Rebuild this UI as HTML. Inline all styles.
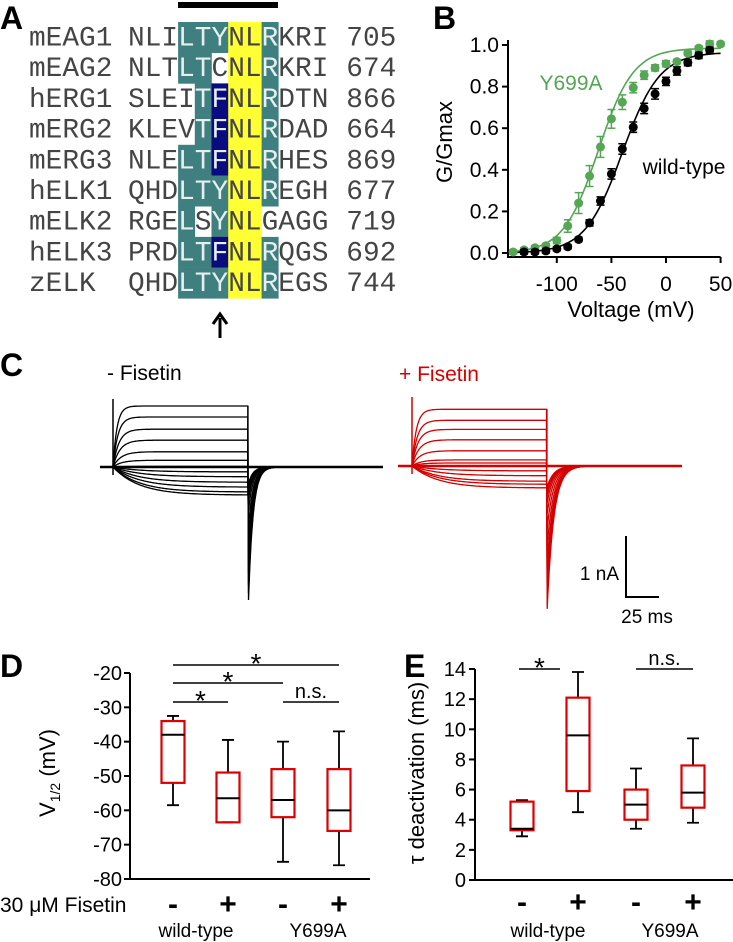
<!DOCTYPE html>
<html><head><meta charset="utf-8"><style>
html,body{margin:0;padding:0;background:#fff}
svg{display:block}
text{font-family:"Liberation Sans",sans-serif}
.mono{font-family:"Liberation Mono",monospace}
</style></head><body>
<svg id="fig" width="733" height="942" viewBox="0 0 733 942" xmlns="http://www.w3.org/2000/svg">
<g font-weight="bold" font-size="32">
<text x="0" y="29">A</text>
<text x="433" y="29">B</text>
<text x="0" y="376">C</text>
<text x="0" y="677">D</text>
<text x="404" y="677">E</text>
</g>
<g id="pa"></g>
<g id="pb"></g>
<g id="pc"></g>
<g id="pd"></g>
<g id="pe"></g>
</svg>
<script>
// ---------- Panel A data ----------
const seqNames=["mEAG1","mEAG2","hERG1","mERG2","mERG3","hELK1","mELK2","hELK3","zELK"];
const seqs=["NLILTYNLRKRI","NLTLTCNLRKRI","SLEITFNLRDTN","KLEVTFNLRDAD","NLELTFNLRHES","QHDLTYNLREGH","RGELSYNLGAGG","PRDLTFNLRQGS","QHDLTYNLREGS"];
const seqNums=["705","674","866","664","869","677","719","692","744"];
const shading=["TTTYYT","TTWYYT","WTNYYT","WTNYYT","TTNYYT","TTTYYT","TWTYYW","TTNYYT","TTTYYT"];
// ---------- Panel B data ----------
const voltsWT=[-130,-120,-110,-100,-90,-80,-70,-60,-50,-40,-30,-20,-10,0,10,20,30,40];
const gWT=[0.005,0.005,0.01,0.02,0.03,0.065,0.145,0.25,0.38,0.50,0.605,0.695,0.765,0.825,0.875,0.915,0.95,0.975];
const eWT=[0.01,0.01,0.01,0.01,0.01,0.01,0.015,0.02,0.025,0.025,0.025,0.025,0.025,0.02,0.02,0.015,0.015,0.015];
const voltsMut=[-140,-130,-120,-110,-100,-90,-80,-70,-60,-50,-40,-30,-20,-10,0,10,20,30,40,50];
const gMut=[0.005,0.015,0.025,0.035,0.06,0.13,0.24,0.37,0.51,0.645,0.725,0.795,0.855,0.89,0.91,0.92,0.96,0.985,1.005,1.005];
const eMut=[0.01,0.01,0.01,0.01,0.015,0.03,0.05,0.05,0.05,0.045,0.035,0.025,0.02,0.015,0.015,0.01,0.01,0.01,0.015,0.01];
const fitWT=[-40,17,0.965];
const fitMut=[-62,16,0.985];
const gTicks=["0.0","0.2","0.4","0.6","0.8","1.0"];
const vTicks=[-100,-50,0,50];
// ---------- Panel C data ----------
const stepCtrl=[1.0,0.82,0.62,0.44,0.25,0.11,0.01,-0.08,-0.16,-0.25,-0.33,-0.41,-0.46];
const tailCtrl=[2.43,2.3,2.15,1.95,1.7,1.4,1.1,0.8,0.6,0.5,0.42,0.36,0.3];
const stepFis=[0.93,0.75,0.6,0.43,0.25,0.1,0.05,-0.08,-0.16,-0.25,-0.3,-0.36];
const tailFis=[2.4,2.25,2.1,1.9,1.65,1.35,1.05,0.8,0.62,0.5,0.42,0.35];
// ---------- Panel D data ----------
const dGroups=["wt-minus","wt-plus","y699a-minus","y699a-plus"];
const dWhiskHi=[-32.5,-39.5,-40,-37];
const dQ3=[-34,-49,-48,-48];
const dMed=[-38,-56.5,-57,-60];
const dQ1=[-52,-63.5,-62,-66];
const dWhiskLo=[-58.5,-63.5,-75,-76];
const dTicks=[-20,-30,-40,-50,-60,-70,-80];
// ---------- Panel E data ----------
const eWhiskHi=[5.3,13.8,7.4,9.4];
const eQ3=[5.2,12.1,6.0,7.6];
const eMed=[3.4,9.6,5.0,5.8];
const eQ1=[3.3,5.9,4.0,4.8];
const eWhiskLo=[2.9,4.5,3.4,3.8];
const eTicks=[0,2,4,6,8,10,12,14];

const NS="http://www.w3.org/2000/svg";
function mk(parent,tag,attrs,txt){const e=document.createElementNS(NS,tag);for(const k in attrs)e.setAttribute(k,attrs[k]);if(txt!==undefined)e.textContent=txt;parent.appendChild(e);return e;}

// ===== Panel A =====
(function(){
const g=document.getElementById('pa');
const cw=16.7,x0=29,sx=128,top0=22,rh=30.7;
const col={T:"#3f7f7f",Y:"#ffff33",N:"#0b0b80",W:"#ffffff"};
shading.forEach((s,i)=>{for(let j=0;j<6;j++){const c=s[j];if(c==='W')continue;
const r=mk(g,'rect',{x:sx+(3+j)*cw,y:top0+i*rh,width:cw+0.3,height:rh+0.3,fill:col[c]});

}});
seqNames.forEach((n,i)=>{
const y=top0+i*rh+23.5;
const t=mk(g,'text',{x:x0,y:y,'class':'mono','font-size':27.8,fill:'#444'},(n+"      ").slice(0,6));


for(let j=0;j<12;j++){const c=(j>=3&&j<=8)?shading[i][j-3]:'';const fill=(c==='T'||c==='N')?'#e6eef0':'#444';
const ch=mk(g,'text',{x:sx+j*cw,y:y,'class':'mono','font-size':27.8,fill:fill},seqs[i][j]);

}
const nu=mk(g,'text',{x:x0+19*cw,y:y,'class':'mono','font-size':27.8,fill:'#444'},seqNums[i]);


});
const bar=mk(g,'rect',{x:178,y:2,width:100,height:6,fill:'#000'});


const ar=mk(g,'path',{d:'M220 338 L220 318 M213 324 L220 314 L227 324',stroke:'#000','stroke-width':3,fill:'none'});


})();

// ===== Panel B =====
(function(){
const g=document.getElementById('pb');
const X=v=>666+v*54.6/50, Y=v=>253-v*208;
mk(g,'path',{d:`M508 40 L508 257 L${X(50)} 257`,stroke:'#000','stroke-width':2,fill:'none',});
gTicks.forEach(t=>{const y=Y(+t);mk(g,'line',{x1:502,x2:508,y1:y,y2:y,stroke:'#000','stroke-width':2});
const tx=mk(g,'text',{x:499,y:y+7,'text-anchor':'end','font-size':21},t);

});
vTicks.forEach(v=>{const x=X(v);mk(g,'line',{x1:x,x2:x,y1:257,y2:263,stroke:'#000','stroke-width':2});
const tx=mk(g,'text',{x:x,y:291,'text-anchor':'middle','font-size':21},String(v));

});
const xt=mk(g,'text',{x:631,y:317,'text-anchor':'middle','font-size':22},'Voltage (mV)');


const yt=mk(g,'text',{x:0,y:0,'text-anchor':'middle','font-size':22,transform:'translate(452,142) rotate(-90)'},'G/Gmax');


function curve(p,color,name){let d='';for(let v=-140;v<=50;v+=2){const gg=p[2]/(1+Math.exp((p[0]-v)/p[1]));d+=(d?'L':'M')+X(v).toFixed(1)+' '+Y(gg).toFixed(1);}
const c=mk(g,'path',{d:d,stroke:color,'stroke-width':1.6,fill:'none'});

}
function pts(vs,gs,es,color,name){vs.forEach((v,i)=>{const x=X(v),y=Y(gs[i]),e=es[i]*208;
mk(g,'path',{d:`M${x} ${y-e} L${x} ${y+e} M${x-4} ${y-e} L${x+4} ${y-e} M${x-4} ${y+e} L${x+4} ${y+e}`,stroke:color,'stroke-width':1.5,fill:'none'});
const c=mk(g,'circle',{cx:x,cy:y,r:4.5,fill:color});

});}
curve(fitWT,'#000','wt-fit');curve(fitMut,'#55a655','y699a-fit');
pts(voltsMut,gMut,eMut,'#55a655','y699a-point');
pts(voltsWT,gWT,eWT,'#000','wt-point');
const l1=mk(g,'text',{x:571,y:90,'text-anchor':'middle','font-size':21,fill:'#55a655'},'Y699A');


const l2=mk(g,'text',{x:684,y:174,'text-anchor':'middle','font-size':21},'wild-type');


})();

// ===== Panel C =====
(function(){
const g=document.getElementById('pc');
function traces(steps,tails,o,color,nm){
const base=o.base,pxn=o.pxPerNA,pxms=o.pxPerMs;
const T=t=>o.x0+t*pxms;
const stepStart=(o.xs-o.x0)/pxms, stepEnd=(o.xe-o.x0)/pxms, tEnd=(o.xend-o.x0)/pxms;
steps.forEach((a,i)=>{let d='';
const tau=a>0?3+ (1-a)*4:20;
for(let t=0;t<=tEnd;t+=0.5){let I=0;
if(t>=stepStart&&t<stepEnd){I=a*(1-Math.exp(-(t-stepStart)/tau));}
else if(t>=stepEnd){I=-tails[i]*Math.exp(-(t-stepEnd)/o.tailTau);}
d+=(d?'L':'M')+T(t).toFixed(1)+' '+(base-I*pxn).toFixed(1);
}
const p=mk(g,'path',{d:d,stroke:color,'stroke-width':1.3,fill:'none'});

});
const cap=mk(g,'line',{x1:o.xs,x2:o.xs,y1:o.capTop,y2:base+8,stroke:color,'stroke-width':1.5});


mk(g,'line',{x1:o.xe,x2:o.xe,y1:base-steps[0]*pxn,y2:base,stroke:color,'stroke-width':1.3});
mk(g,'line',{x1:o.x0,x2:o.xend,y1:base,y2:base,stroke:color,'stroke-width':2.5});
}
traces(stepCtrl,tailCtrl,{base:467,pxPerNA:61,pxPerMs:33/25,x0:100,xs:113,xe:248,xend:383,tailTau:3.5,capTop:399},'#000','control-trace');
traces(stepFis,tailFis,{base:466,pxPerNA:61,pxPerMs:33/25,x0:398,xs:412,xe:547,xend:682,tailTau:5,capTop:397},'#d40000','fisetin-trace');
const t1=mk(g,'text',{x:107,y:380,'font-size':21},'- Fisetin');


const t2=mk(g,'text',{x:399,y:381,'font-size':21,fill:'#d40000'},'+ Fisetin');


const sb=mk(g,'path',{d:'M626 536 L626 597 L659 597',stroke:'#000','stroke-width':2,fill:'none'});


const s1=mk(g,'text',{x:619,y:580,'text-anchor':'end','font-size':19},'1 nA');


const s2=mk(g,'text',{x:647,y:623,'text-anchor':'middle','font-size':19},'25 ms');


})();

// ===== Box plot helper =====
function boxplot(g,Y,xs,hi,q3,md,q1,lo,name){
xs.forEach((x,i)=>{const w=11.5;
mk(g,'path',{d:`M${x} ${Y(hi[i])} L${x} ${Y(q3[i])} M${x} ${Y(q1[i])} L${x} ${Y(lo[i])} M${x-6} ${Y(hi[i])} L${x+6} ${Y(hi[i])} M${x-6} ${Y(lo[i])} L${x+6} ${Y(lo[i])}`,stroke:'#000','stroke-width':1.8,fill:'none'});
const b=mk(g,'rect',{x:x-w,y:Y(q3[i]),width:2*w,height:Y(q1[i])-Y(q3[i]),fill:'none',stroke:'#d00','stroke-width':2.2});


mk(g,'line',{x1:x-w,x2:x+w,y1:Y(md[i]),y2:Y(md[i]),stroke:'#000','stroke-width':2});});}
function sig(g,x1,x2,y,lab){mk(g,'line',{x1:x1,x2:x2,y1:y,y2:y,stroke:'#000','stroke-width':1.5});
const t=mk(g,'text',{x:(x1+x2)/2,y:lab==='*'?y+8:y-4,'text-anchor':'middle','font-size':lab==='*'?28:20},lab);

}

// ===== Panel D =====
(function(){
const g=document.getElementById('pd');
const Y=v=>673+(-20-v)*3.433;const xs=[173,228,283,339];
mk(g,'path',{d:'M130 673 L130 879 L370 879',stroke:'#000','stroke-width':2,fill:'none'});
dTicks.forEach(v=>{mk(g,'line',{x1:124,x2:130,y1:Y(v),y2:Y(v),stroke:'#000','stroke-width':2});
const t=mk(g,'text',{x:122,y:Y(v)+7,'text-anchor':'end','font-size':20},String(v));

});
boxplot(g,Y,xs,dWhiskHi,dQ3,dMed,dQ1,dWhiskLo,'vhalf-box');
sig(g,173,228,702,'*');sig(g,173,283,683,'*');sig(g,173,339,665,'*');sig(g,283,339,702,'n.s.');
const yt=mk(g,'text',{x:0,y:0,'text-anchor':'middle','font-size':22,transform:'translate(55,773) rotate(-90)'});


yt.innerHTML='V<tspan font-size="14" dy="5">1/2</tspan><tspan dy="-5"> (mV)</tspan>';
const f=mk(g,'text',{x:0,y:912,'font-size':21},'30 \u03bcM Fisetin');


["-","+","-","+"].forEach((s,i)=>{const t=mk(g,'text',{x:xs[i],y:914,'text-anchor':'middle','font-size':30,'font-weight':'bold'},s);

});
const a=mk(g,'text',{x:196,y:937,'text-anchor':'middle','font-size':19},'wild-type');


const b=mk(g,'text',{x:318,y:937,'text-anchor':'middle','font-size':19},'Y699A');


})();

// ===== Panel E =====
(function(){
const g=document.getElementById('pe');
const Y=v=>880-v*15.07;const xs=[522,578,636,693];
mk(g,'path',{d:'M475 669 L475 880 L733 880',stroke:'#000','stroke-width':2,fill:'none'});
eTicks.forEach(v=>{mk(g,'line',{x1:469,x2:475,y1:Y(v),y2:Y(v),stroke:'#000','stroke-width':2});
const t=mk(g,'text',{x:466,y:Y(v)+7,'text-anchor':'end','font-size':20},String(v));

});
boxplot(g,Y,xs,eWhiskHi,eQ3,eMed,eQ1,eWhiskLo,'tau-box');
sig(g,519,560,669,'*');sig(g,636,693,669,'n.s.');
const yt=mk(g,'text',{x:0,y:0,'text-anchor':'middle','font-size':22,transform:'translate(424,773) rotate(-90)'},'\u03c4 deactivation (ms)');


["-","+","-","+"].forEach((s,i)=>{const t=mk(g,'text',{x:xs[i],y:912,'text-anchor':'middle','font-size':30,'font-weight':'bold'},s);

});
const a=mk(g,'text',{x:548,y:937,'text-anchor':'middle','font-size':19},'wild-type');


const b=mk(g,'text',{x:670,y:937,'text-anchor':'middle','font-size':19},'Y699A');


})();
</script>
</body></html>
